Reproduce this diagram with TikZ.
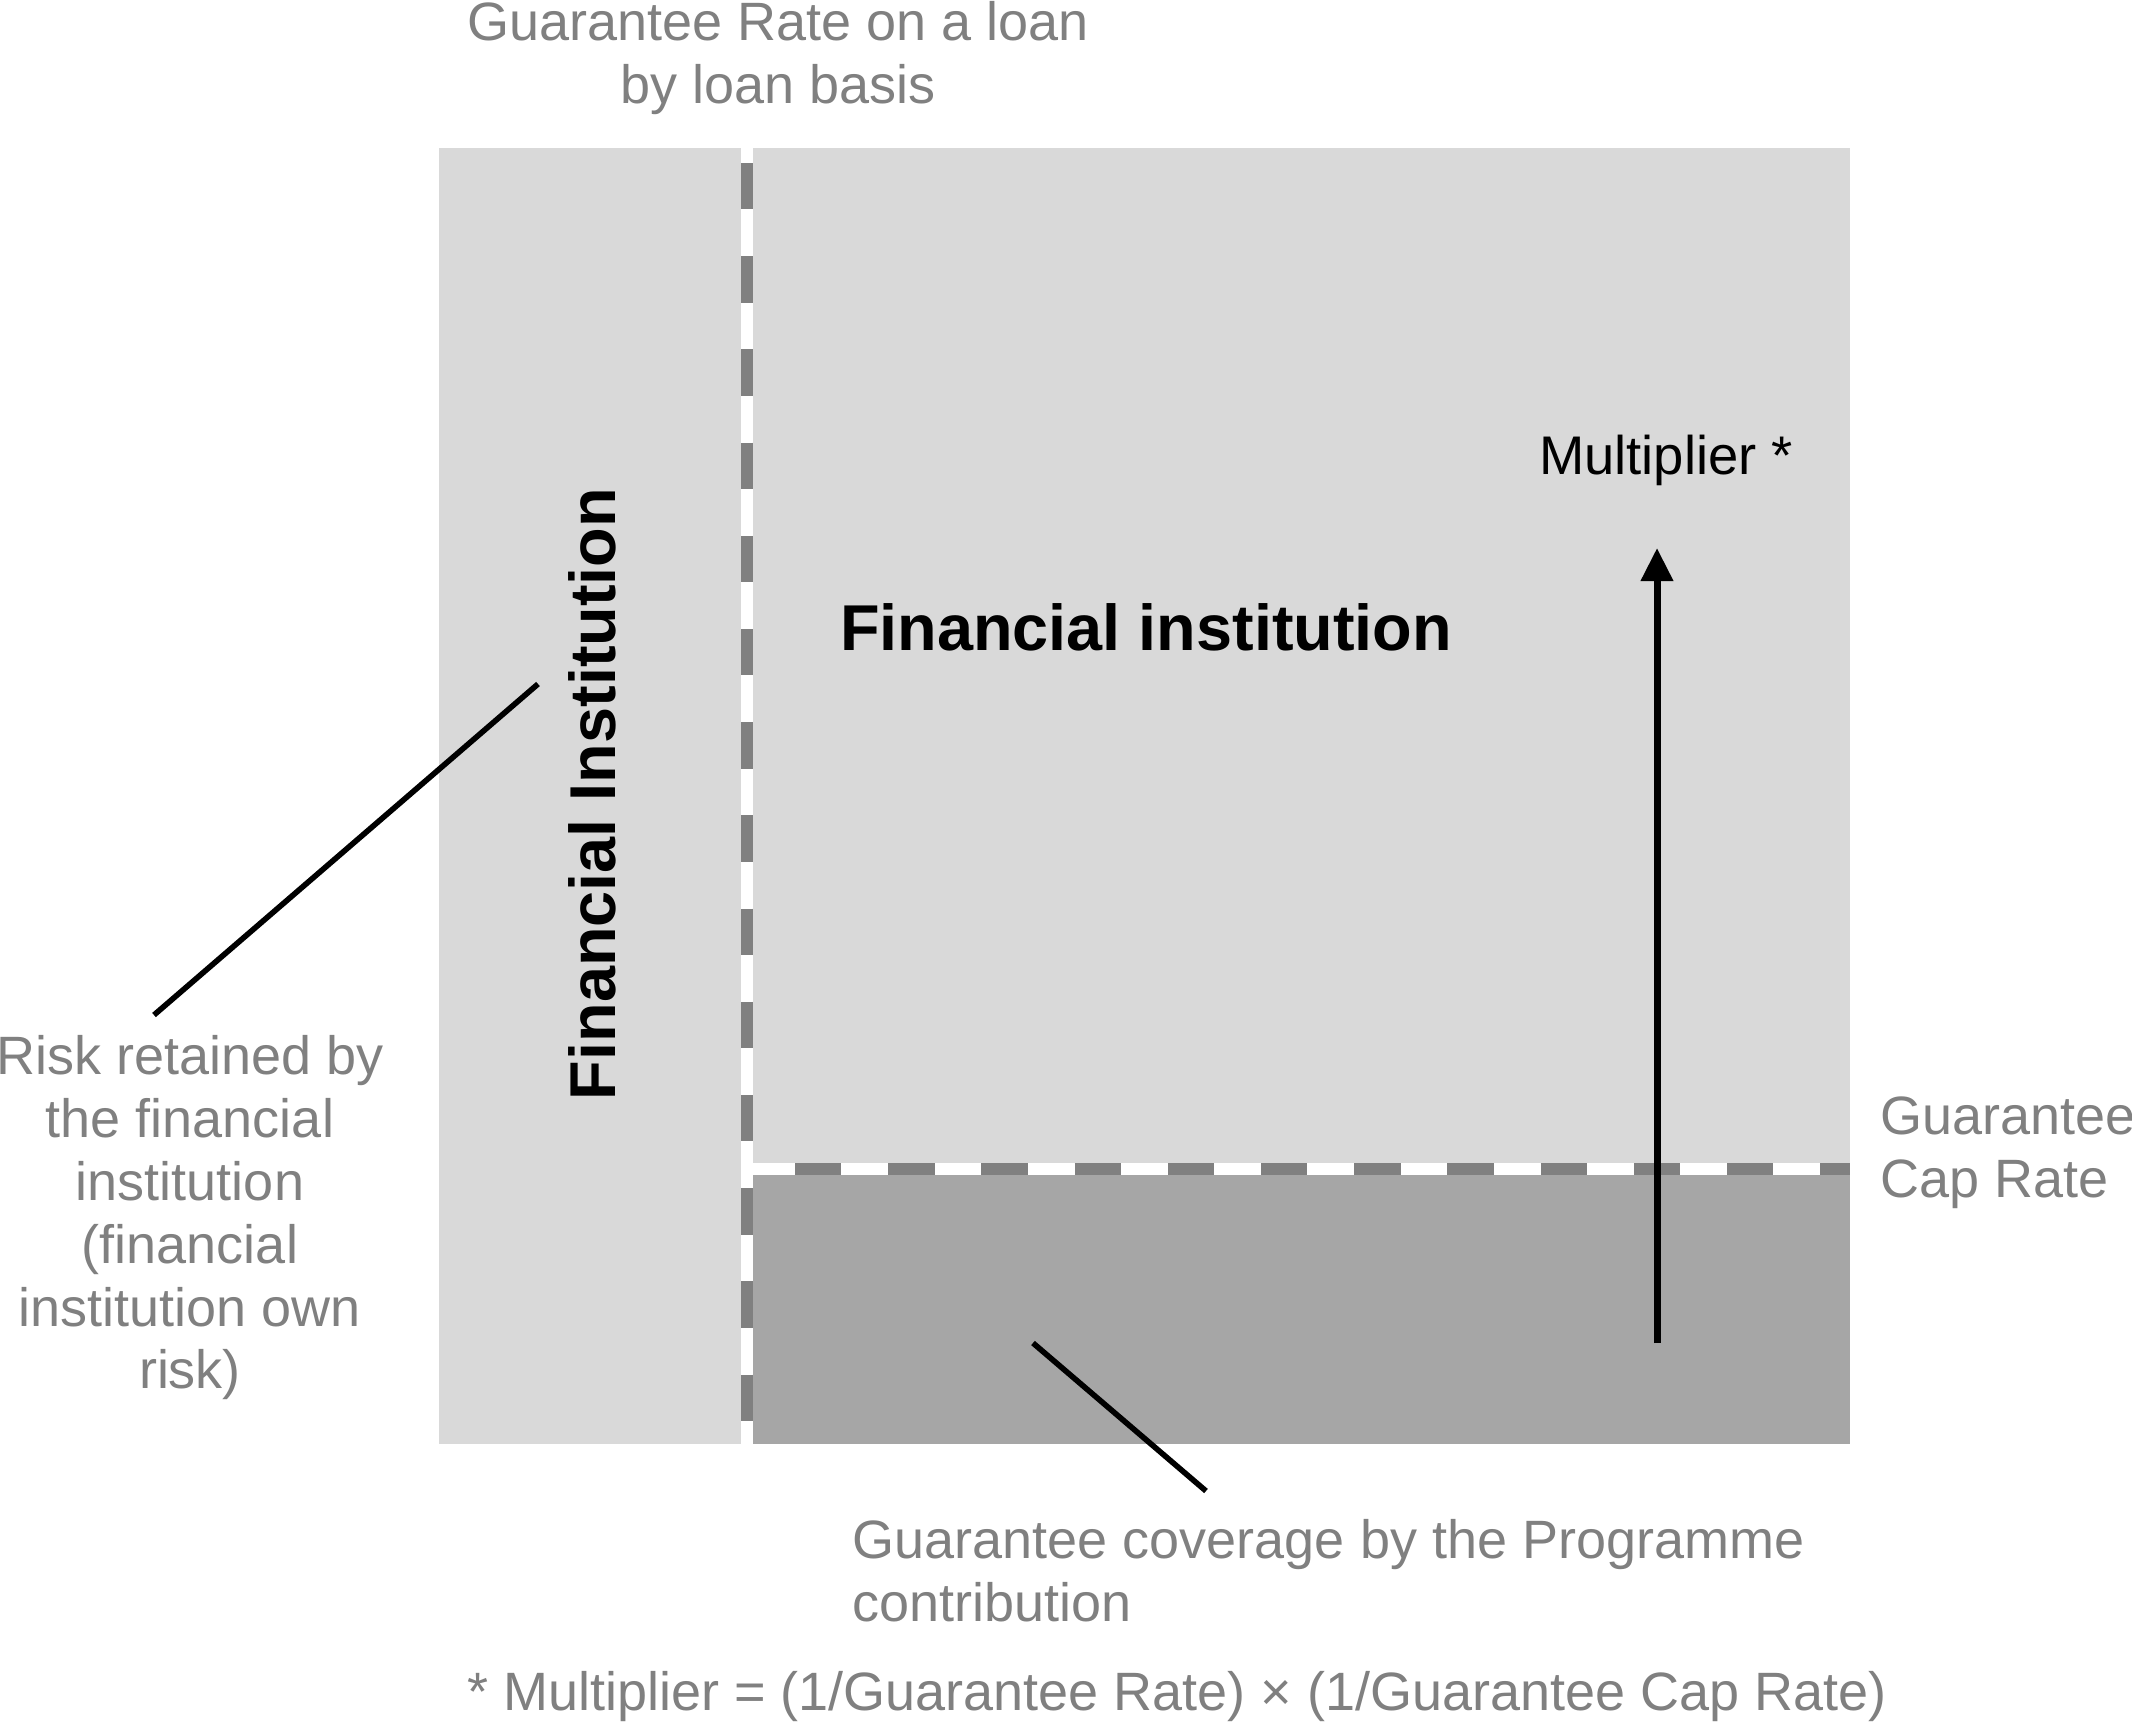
\documentclass[tikz,border=0pt]{standalone}
\usepackage{fontspec}
\setmainfont{Liberation Sans}
\usetikzlibrary{arrows.meta}
\definecolor{lightfill}{RGB}{217,217,217}
\definecolor{darkfill}{RGB}{166,166,166}
\definecolor{dashgray}{RGB}{128,128,128}
\definecolor{txtgray}{RGB}{128,128,128}
\tikzset{
  graytext/.style={text=txtgray, inner sep=0pt, font=\fontsize{13.5pt}{15.7pt}\selectfont},
  boldlabel/.style={text=black, inner sep=0pt, font=\fontsize{16.2pt}{19pt}\selectfont\bfseries},
  divider/.style={draw=dashgray, line width=3pt, dash pattern=on 11.6pt off 11.7pt},
  leader/.style={draw=black, line width=1.4pt},
}
\begin{document}
\begin{tikzpicture}[x=0.25pt,y=-0.25pt]
\useasboundingbox (0,0) rectangle (2132,1725);
% areas
\fill[lightfill] (439,148) rectangle (741,1444);
\fill[lightfill] (753,148) rectangle (1850,1163);
\fill[darkfill] (753,1175) rectangle (1850,1444);
% dashed dividers
\coordinate (vtop) at (747,163);
\coordinate (vbot) at (747,1423);
\coordinate (hleft) at (795,1169);
\coordinate (hright) at (1850,1169);
\draw[divider] (vtop) -- (vbot);
\draw[divider] (hleft) -- (hright);
% texts
\node[graytext, align=center] (grate) at (778,58) {Guarantee Rate on a loan\\by loan basis};
\node[graytext, align=center] (risk) at (190,1218) {Risk retained by\\the financial\\institution\\(financial\\institution own\\risk)};
\node[graytext, align=left, anchor=west] (cap) at (1880,1153) {Guarantee\\Cap Rate};
\node[graytext, align=left, anchor=west] (cover) at (852,1571) {Guarantee coverage by the Programme\\contribution};
\node[graytext] (formula) at (1177,1697) {* Multiplier = (1/Guarantee Rate) × (1/Guarantee Cap Rate)};
\node[inner sep=0pt, font=\fontsize{13.6pt}{15.7pt}\selectfont] (mult) at (1666,460) {Multiplier *};
\node[boldlabel] (fi) at (1146,627) {Financial institution};
\node[boldlabel, rotate=90] (fiv) at (592,794) {Financial Institution};
% arrow
\coordinate (abot) at (1657,1343);
\coordinate (atop) at (1657,548);
\draw[line width=1.75pt, -{Triangle[length=8.3pt, width=7.8pt]}] (abot) -- (atop);
% leader lines
\coordinate (l1a) at (538,684);
\coordinate (l1b) at (154,1015);
\coordinate (l2a) at (1033,1343);
\coordinate (l2b) at (1206,1491);
\draw[leader] (l1a) -- (l1b);
\draw[leader] (l2a) -- (l2b);
\end{tikzpicture}
\end{document}
